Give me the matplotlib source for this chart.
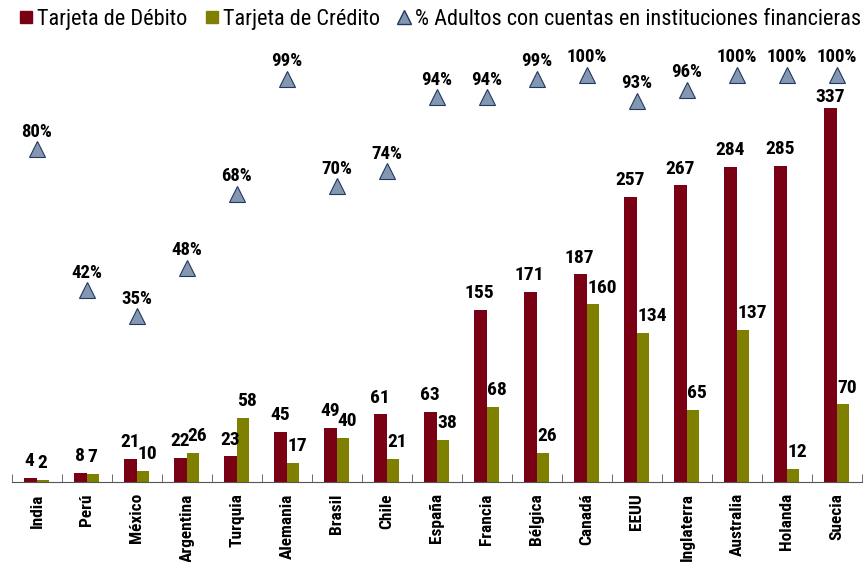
import numpy as np
import matplotlib.pyplot as plt
from matplotlib.lines import Line2D

plt.rcParams['font.family'] = ['Roboto Condensed', 'DejaVu Sans']

# Data
paises = ['India', 'Perú', 'México', 'Argentina', 'Turquia', 'Alemania', 'Brasil', 'Chile',
          'España', 'Francia', 'Bélgica', 'Canadá', 'EEUU', 'Inglaterra', 'Australia',
          'Holanda', 'Suecia']
debito = [4, 8, 21, 22, 23, 45, 49, 61, 63, 155, 171, 187, 257, 267, 284, 285, 337]
credito = [2, 7, 10, 26, 58, 17, 40, 21, 38, 68, 26, 160, 134, 65, 137, 12, 70]
adultos = [80, 42, 35, 48, 68, 99, 70, 74, 94, 94, 99, 100, 93, 96, 100, 100, 100]

col_deb = '#7a0014'
col_cred = '#7f7f00'
col_tri = '#8497b0'
col_tri_edge = '#1f3864'

x = np.arange(len(paises))
w = 0.25

fig = plt.figure(figsize=(8.67, 5.62), dpi=100)
ax = fig.add_axes([0.0138, 0.1423, 0.9804, 0.8043])

ax.bar(x - w / 2, debito, w, color=col_deb)
ax.bar(x + w / 2, credito, w, color=col_cred)

# value labels: debit centred, credit starting at the bar's left edge
for i in range(len(paises)):
    off = 7 if debito[i] < 300 else 2  # tallest one sits closer so it clears the triangle
    ax.text(x[i] - w / 2 - 0.02, debito[i] + off, str(debito[i]), ha='center', va='bottom',
            fontsize=14, fontweight='bold')
    ax.text(x[i] + 0.01, credito[i] + 7, str(credito[i]), ha='left', va='bottom',
            fontsize=14, fontweight='bold')

ax.set_xlim(-0.5, len(paises) - 0.5)
ax.set_ylim(0, 407)
ax.set_yticks([])
for s in ['top', 'right', 'left']:
    ax.spines[s].set_visible(False)
ax.spines['bottom'].set_color('#555555')

ax.set_xticks(x)
ax.set_xticklabels(paises, rotation=90, fontsize=12.5, fontweight='bold')
ax.tick_params(axis='x', which='major', length=0, pad=8)
ax.set_xticks(np.arange(-0.5, len(paises)), minor=True)
ax.tick_params(axis='x', which='minor', direction='in', length=6, color='#555555')

# Second axis for the % of adults
ax2 = ax.twinx()
ax2.plot(x, adultos, linestyle='none', marker='^', markersize=11.5,
         markerfacecolor=col_tri, markeredgecolor=col_tri_edge, markeredgewidth=0.8)
for i in range(len(paises)):
    ax2.text(x[i], adultos[i] + 2.3, f'{adultos[i]}%', ha='center', va='bottom',
             fontsize=13.5, fontweight='bold')
ax2.set_ylim(-9.7, 112.1)
ax2.set_yticks([])
for s in ['top', 'right', 'left', 'bottom']:
    ax2.spines[s].set_visible(False)

handles = [
    Line2D([], [], linestyle='none', marker='s', markersize=9, color=col_deb),
    Line2D([], [], linestyle='none', marker='s', markersize=9, color=col_cred),
    Line2D([], [], linestyle='none', marker='^', markersize=10,
           markerfacecolor=col_tri, markeredgecolor=col_tri_edge),
]
fig.legend(handles, ['Tarjeta de Débito', 'Tarjeta de Crédito',
                     '% Adultos con cuentas en instituciones financieras'],
           loc='upper left', bbox_to_anchor=(-0.006, 1.02), ncol=3, frameon=False,
           fontsize=16, handletextpad=0.0, columnspacing=0.6, handlelength=1.0)

fig.savefig('out.png', dpi=100)
